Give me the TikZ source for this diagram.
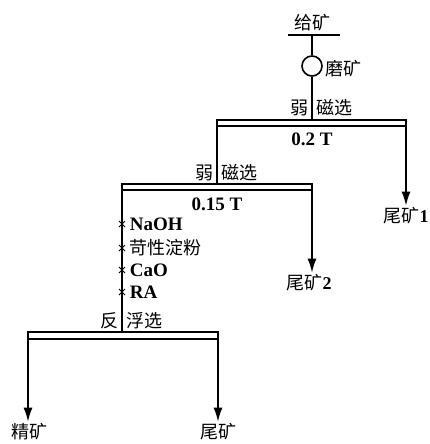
\documentclass[tikz,border=0pt]{standalone}
\usepackage{fontspec}
\setmainfont{Liberation Serif}
\newfontfamily\cjk{Noto Sans CJK SC}
\usetikzlibrary{arrows.meta,shapes.misc}
\begin{document}
\begin{tikzpicture}[x=1pt,y=-1pt,
  line width=1.6pt,
  cn/.style={font=\cjk\fontsize{18}{18}\selectfont, inner sep=0pt},
  bn/.style={font=\bfseries\fontsize{19}{19}\selectfont, inner sep=0pt},
  bar/.style={line width=1.6pt},
  arr/.style={-{Latex[length=14pt,width=9pt]}},
  xm/.style={draw, cross out, minimum size=5pt, inner sep=0pt, line width=1pt}]
\useasboundingbox (0,0) rectangle (430,444);
% feed
\node[cn] (feed) at (312,23) {给矿};
\coordinate (fl) at (288,35);
\coordinate (fr) at (340,35);
\coordinate (f0) at (312,35);
\draw (fl) -- (fr);
\node[draw, circle, minimum size=20pt, inner sep=0pt, line width=1.6pt] (mill) at (312,66) {};
\node[cn, anchor=west] (millt) at (325,69) {磨矿};
\draw (f0) -- (mill.north);
% bar 1
\coordinate (b1in) at (312,120);
\draw (mill.south) -- (b1in);
\draw[bar] (217,120) rectangle (406,126);
\node[cn, anchor=east] (w1a) at (309,108) {弱};
\node[cn, anchor=west] (w1b) at (316,108) {磁选};
\node[bn] (t1) at (312,139) {0.2 T};
\coordinate (b1l) at (217,126);
\coordinate (b1r) at (406,126);
\node[cn, outer sep=2pt] (tail1) at (406,216) {尾矿\bfseries\rmfamily 1};
\draw[arr] (b1r) -- (tail1.north);
% bar 2
\coordinate (b2in) at (217,184);
\draw (b1l) -- (b2in);
\draw[bar] (122,184) rectangle (312,190);
\node[cn, anchor=east] (w2a) at (214,173) {弱};
\node[cn, anchor=west] (w2b) at (221,173) {磁选};
\node[bn] (t2) at (217,204) {0.15 T};
\coordinate (b2l) at (122,190);
\coordinate (b2r) at (312,190);
\node[cn, outer sep=2pt] (tail2) at (309,283) {尾矿\bfseries\rmfamily 2};
\draw[arr] (b2r) -- (tail2.north -| b2r);
% reagents
\node[xm] (x1) at (122,224) {};
\node[xm] (x2) at (122,248) {};
\node[xm] (x3) at (122,270) {};
\node[xm] (x4) at (122,292) {};
\node[bn, anchor=west] (r1) at (129,224) {NaOH};
\node[cn, anchor=west] (r2) at (129,248) {苛性淀粉};
\node[bn, anchor=west] (r3) at (129,270) {CaO};
\node[bn, anchor=west] (r4) at (129,292) {RA};
% bar 3
\coordinate (b3in) at (122,332);
\draw (b2l) -- (b3in);
\draw[bar] (28,332) rectangle (218,339);
\node[cn, anchor=east] (w3a) at (119,321) {反};
\node[cn, anchor=west] (w3b) at (126,321) {浮选};
\coordinate (b3l) at (28,339);
\coordinate (b3r) at (218,339);
\node[cn, outer sep=2pt] (conc) at (29,432) {精矿};
\node[cn, outer sep=2pt] (tail3) at (218,432) {尾矿};
\draw[arr] (b3l) -- (conc.north -| b3l);
\draw[arr] (b3r) -- (tail3.north);
\end{tikzpicture}
\end{document}
